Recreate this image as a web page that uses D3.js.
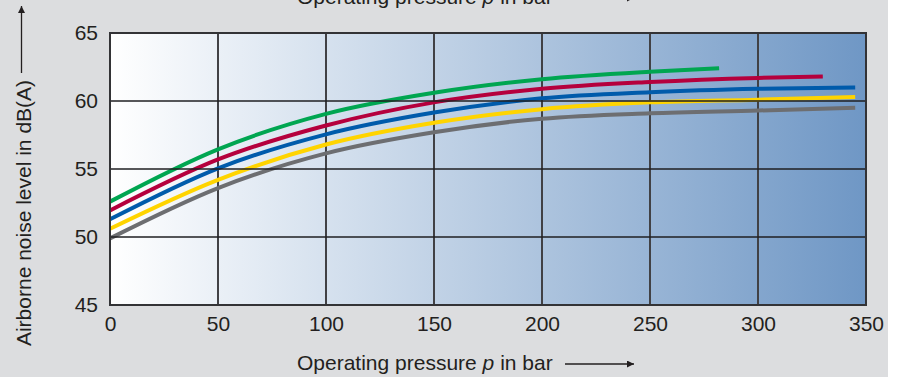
<!DOCTYPE html>
<html>
<head>
<meta charset="utf-8">
<script src="https://cdn.jsdelivr.net/npm/d3@7"></script>
<style>
  body { margin: 0; background: #fff; }
  text { font-family: "Liberation Sans", Arial, sans-serif; fill: #231f20; }
</style>
</head>
<body>
<script>
var width = 899,
    height = 377;

//plot box
var left = 110, right = 866,
    top_ = 33, bottom = 305;

//data
var xTicks = [0, 50, 100, 150, 200, 250, 300, 350];
var yTicks = [45, 50, 55, 60, 65];

var greenP  = [0, 50, 100, 150, 200, 250, 282];
var greenV  = [52.6, 56.45, 59.05, 60.6, 61.6, 62.15, 62.4];
var redP    = [0, 50, 100, 150, 200, 250, 300, 330];
var redV    = [51.95, 55.7, 58.2, 59.9, 60.9, 61.4, 61.7, 61.8];
var blueP   = [0, 50, 100, 150, 200, 250, 300, 345];
var blueV   = [51.3, 55.05, 57.55, 59.15, 60.2, 60.65, 60.9, 61.0];
var yellowP = [0, 50, 100, 150, 200, 250, 300, 345];
var yellowV = [50.6, 54.2, 56.8, 58.4, 59.4, 59.9, 60.1, 60.3];
var greyP   = [0, 50, 100, 150, 200, 250, 300, 345];
var greyV   = [49.9, 53.6, 56.15, 57.7, 58.7, 59.1, 59.3, 59.5];

var xTitle = "Operating pressure ",
    yTitle = "Airborne noise level in dB(A)";

//series list, drawn back to front
var series = [
    {p: greyP,   v: greyV,   color: "#6d6e71"},
    {p: yellowP, v: yellowV, color: "#ffd400"},
    {p: blueP,   v: blueV,   color: "#005bab"},
    {p: redP,    v: redV,    color: "#b5003d"},
    {p: greenP,  v: greenV,  color: "#00a651"}
];

var x = d3.scaleLinear().domain([0, 350]).range([left, right]);
var y = d3.scaleLinear().domain([45, 65]).range([bottom, top_]);

var svg = d3.select("body")
      .append("svg")
      .attr("width", width)
      .attr("height", height);

var defs = svg.append("defs");
var grad = defs.append("linearGradient").attr("id", "bg").attr("x1", 0).attr("x2", 1).attr("y1", 0).attr("y2", 0);
grad.append("stop").attr("offset", "0%").attr("stop-color", "#ffffff");
grad.append("stop").attr("offset", "100%").attr("stop-color", "#6f97c5");

defs.append("marker")
    .attr("id", "arrow")
    .attr("viewBox", "0 0 10 10")
    .attr("refX", 10).attr("refY", 5)
    .attr("markerWidth", 13).attr("markerHeight", 7)
    .attr("markerUnits", "userSpaceOnUse")
    .attr("orient", "auto")
  .append("path")
    .attr("d", "M0,0 L10,5 L0,10 Z")
    .attr("fill", "#231f20");

//grey page background
svg.append("rect").attr("width", 888).attr("height", height).attr("fill", "#dcdddf");

//plot background
svg.append("rect")
    .attr("x", left).attr("y", top_)
    .attr("width", right - left).attr("height", bottom - top_)
    .attr("fill", "url(#bg)");

//vertical grid behind the curves
svg.append("g")
    .selectAll("line")
    .data(xTicks.slice(1, -1))
    .enter().append("line")
    .attr("x1", function(d) { return x(d); })
    .attr("x2", function(d) { return x(d); })
    .attr("y1", top_).attr("y2", bottom)
    .attr("stroke", "#414145")
    .attr("stroke-width", 2);

//curves
var line = d3.line()
    .x(function(d) { return x(d[0]); })
    .y(function(d) { return y(d[1]); })
    .curve(d3.curveMonotoneX);

svg.append("g")
    .selectAll("path")
    .data(series)
    .enter().append("path")
    .attr("d", function(s) { return line(d3.zip(s.p, s.v)); })
    .attr("fill", "none")
    .attr("stroke", function(s) { return s.color; })
    .attr("stroke-width", 4);

//horizontal grid on top
svg.append("g")
    .selectAll("line")
    .data(yTicks.slice(1, -1))
    .enter().append("line")
    .attr("x1", left).attr("x2", right)
    .attr("y1", function(d) { return y(d); })
    .attr("y2", function(d) { return y(d); })
    .attr("stroke", "#1f1f22")
    .attr("stroke-width", 1.5);

//frame
svg.append("rect")
    .attr("x", left).attr("y", top_)
    .attr("width", right - left).attr("height", bottom - top_)
    .attr("fill", "none")
    .attr("stroke", "#333336")
    .attr("stroke-width", 2);

//axes (labels only)
var xAxis = svg.append("g")
    .attr("transform", "translate(0," + bottom + ")")
    .call(d3.axisBottom(x).tickValues(xTicks).tickSize(0).tickPadding(11));
var yAxis = svg.append("g")
    .attr("transform", "translate(" + left + ",0)")
    .call(d3.axisLeft(y).tickValues(yTicks).tickSize(0).tickPadding(12));
[xAxis, yAxis].forEach(function(a) {
    a.select(".domain").remove();
    a.selectAll("text")
        .attr("font-family", "Liberation Sans, Arial, sans-serif")
        .attr("font-size", "21px")
        .attr("fill", "#231f20");
});

//x title, drawn twice (bottom and clipped copy at the top)
[370, 4].forEach(function(base) {
    var t = svg.append("text")
        .attr("x", 297).attr("y", base)
        .attr("font-size", "21px");
    t.append("tspan").text(xTitle);
    t.append("tspan").attr("font-style", "italic").text("p");
    t.append("tspan").text(" in bar");
    svg.append("line")
        .attr("x1", 565).attr("x2", 634)
        .attr("y1", base - 6).attr("y2", base - 6)
        .attr("stroke", "#231f20").attr("stroke-width", 1.3)
        .attr("marker-end", "url(#arrow)");
});

//y title
svg.append("text")
    .attr("transform", "translate(31,213) rotate(-90)")
    .attr("text-anchor", "middle")
    .attr("font-size", "21px")
    .text(yTitle);

svg.append("line")
    .attr("x1", 21.5).attr("x2", 21.5)
    .attr("y1", 73).attr("y2", 6)
    .attr("stroke", "#231f20").attr("stroke-width", 1.3)
    .attr("marker-end", "url(#arrow)");
</script>
</body>
</html>
